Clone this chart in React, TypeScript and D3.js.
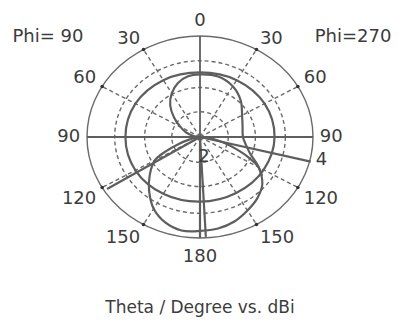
import { useEffect, useRef } from "react";
import * as d3 from "d3";

// Theta angles as drawn (clockwise from top): 0..180 = Phi=270 side, 180..360 = Phi=90 side
const patternAngles = [0, 15, 30, 45, 60, 75, 90, 100, 110, 120, 130, 140, 150, 160, 170, 180,
  190, 200, 210, 220, 230, 240, 245, 250, 255, 260, 270, 280, 290, 300, 310, 320, 330, 340, 350];
const patternGain = [0.62, 0.62, 0.58, 0.51, 0.43, 0.39, 0.38, 0.41, 0.47, 0.6, 0.72, 0.79, 0.84, 0.89, 0.92, 0.93,
  0.94, 0.9, 0.82, 0.7, 0.58, 0.46, 0.33, 0.2, 0.1, 0.04, 0.02, 0.06, 0.13, 0.2, 0.3, 0.41, 0.5, 0.57, 0.61];

// inner branch of the lower lobe (right side)
const branchAngles = [92, 100, 105, 110, 115, 120, 125];
const branchGain = [0.02, 0.12, 0.22, 0.33, 0.47, 0.6, 0.67];

const ringAngles = [0, 30, 60, 90, 120, 150, 180, 210, 240, 270, 300, 330];
const ringGain = [0.64, 0.65, 0.66, 0.66, 0.65, 0.64, 0.64, 0.65, 0.66, 0.66, 0.66, 0.65];

// spikes from the centre
const spikeAngles = [104, 177, 180, 238];
const spikeGain = [1.01, 0.99, 1.0, 0.97];

const gridRings = [0.25, 0.49, 0.755];
const spokeAngles = [30, 60, 120, 150, 210, 240, 300, 330];
const angleLabels = ["0", "30", "60", "90", "120", "150", "180", "150", "120", "90", "60", "30"];
const radialLabels = ["2", "4"];
const radialLabelAngles = [170, 102];
const radialLabelGain = [0.2, 1.1];

export default function App() {
  const ref = useRef<SVGSVGElement>(null);

  useEffect(() => {
    const svg = d3.select(ref.current);
    svg.selectAll("*").remove();

    const cx = 200, cy = 137;
    const rX = d3.scaleLinear().domain([0, 1]).range([0, 113]);
    const rY = d3.scaleLinear().domain([0, 1]).range([0, 101]);
    const rad = (a: number) => (a * Math.PI) / 180;
    const pt = (a: number, r: number): [number, number] => [
      cx + rX(r) * Math.sin(rad(a)),
      cy - rY(r) * Math.cos(rad(a)),
    ];

    const grey = "#5e5e5e";
    const font = "DejaVu Sans, Verdana, sans-serif";

    // outer circle
    svg.append("ellipse")
      .attr("cx", cx).attr("cy", cy).attr("rx", rX(1)).attr("ry", rY(1))
      .attr("fill", "none").attr("stroke", "#6a6a6a").attr("stroke-width", 1.4);

    // dashed rings
    svg.selectAll(".ring")
      .data(gridRings)
      .enter()
      .append("ellipse")
      .attr("cx", cx).attr("cy", cy)
      .attr("rx", d => rX(d)).attr("ry", d => rY(d))
      .attr("fill", "none").attr("stroke", "#6a6a6a").attr("stroke-width", 1.4)
      .attr("stroke-dasharray", "4,3");

    // dashed spokes
    svg.selectAll(".spoke")
      .data(spokeAngles)
      .enter()
      .append("line")
      .attr("x1", cx).attr("y1", cy)
      .attr("x2", d => pt(d, 1)[0]).attr("y2", d => pt(d, 1)[1])
      .attr("stroke", "#6a6a6a").attr("stroke-width", 1.4)
      .attr("stroke-dasharray", "4,3");

    // solid axes
    [0, 90].forEach(a => {
      const p1 = pt(a, 1), p2 = pt(a + 180, 1);
      svg.append("line")
        .attr("x1", p1[0]).attr("y1", p1[1]).attr("x2", p2[0]).attr("y2", p2[1])
        .attr("stroke", grey).attr("stroke-width", 1.8);
    });

    // tick dots on outer circle
    svg.selectAll(".dot")
      .data(spokeAngles)
      .enter()
      .append("circle")
      .attr("cx", d => pt(d, 1)[0]).attr("cy", d => pt(d, 1)[1])
      .attr("r", 1.8).attr("fill", "#333");

    const closed = d3.line<[number, number]>().curve(d3.curveCatmullRomClosed);
    const open = d3.line<[number, number]>().curve(d3.curveCatmullRom);

    // ring series
    svg.append("path")
      .attr("d", closed(ringAngles.map((a, i) => pt(a, ringGain[i]))))
      .attr("fill", "none").attr("stroke", grey).attr("stroke-width", 2.2);

    // figure-eight series
    svg.append("path")
      .attr("d", closed(patternAngles.map((a, i) => pt(a, patternGain[i]))))
      .attr("fill", "none").attr("stroke", grey).attr("stroke-width", 2.2);

    svg.append("path")
      .attr("d", open(branchAngles.map((a, i) => pt(a, branchGain[i]))))
      .attr("fill", "none").attr("stroke", grey).attr("stroke-width", 2.2);

    // spikes
    svg.selectAll(".spike")
      .data(spikeAngles)
      .enter()
      .append("line")
      .attr("x1", cx).attr("y1", cy)
      .attr("x2", (d, i) => pt(d, spikeGain[i])[0])
      .attr("y2", (d, i) => pt(d, spikeGain[i])[1])
      .attr("stroke", grey).attr("stroke-width", 2.2);

    // angle labels
    const labelR = 1.06;
    svg.selectAll(".alabel")
      .data(angleLabels)
      .enter()
      .append("text")
      .attr("x", (d, i) => pt(i * 30, i % 6 === 0 ? 1.08 : labelR)[0])
      .attr("y", (d, i) => pt(i * 30, i % 6 === 0 ? 1.1 : labelR)[1])
      .attr("text-anchor", (d, i) => (i % 6 === 0 ? "middle" : i < 6 ? "start" : "end"))
      .attr("dominant-baseline", (d, i) => {
        const a = i * 30;
        if (a === 90 || a === 270) return "middle";
        return a < 90 || a > 270 ? "alphabetic" : "hanging";
      })
      .attr("font-family", font).attr("font-size", 18).attr("fill", "#3c3c3c")
      .text(d => d);

    // radial labels
    svg.selectAll(".rlabel")
      .data(radialLabels)
      .enter()
      .append("text")
      .attr("x", (d, i) => pt(radialLabelAngles[i], radialLabelGain[i])[0])
      .attr("y", (d, i) => pt(radialLabelAngles[i], radialLabelGain[i])[1])
      .attr("text-anchor", "middle").attr("dominant-baseline", "middle")
      .attr("font-family", font).attr("font-size", 18).attr("fill", "#3c3c3c")
      .text(d => d);

    // phi labels
    svg.append("text").attr("x", 48).attr("y", 42).attr("text-anchor", "middle")
      .attr("font-family", font).attr("font-size", 18).attr("fill", "#3c3c3c").text("Phi= 90");
    svg.append("text").attr("x", 353).attr("y", 42).attr("text-anchor", "middle")
      .attr("font-family", font).attr("font-size", 18).attr("fill", "#3c3c3c").text("Phi=270");

    // title
    svg.append("text").attr("x", 200).attr("y", 313).attr("text-anchor", "middle")
      .attr("font-family", font).attr("font-size", 17).attr("fill", "#3c3c3c")
      .text("Theta / Degree vs. dBi");
  }, []);

  return (
    <svg ref={ref} width={400} height={324}
      style={{ position: "absolute", left: 0, top: 0, background: "#fff" }} />
  );
}
